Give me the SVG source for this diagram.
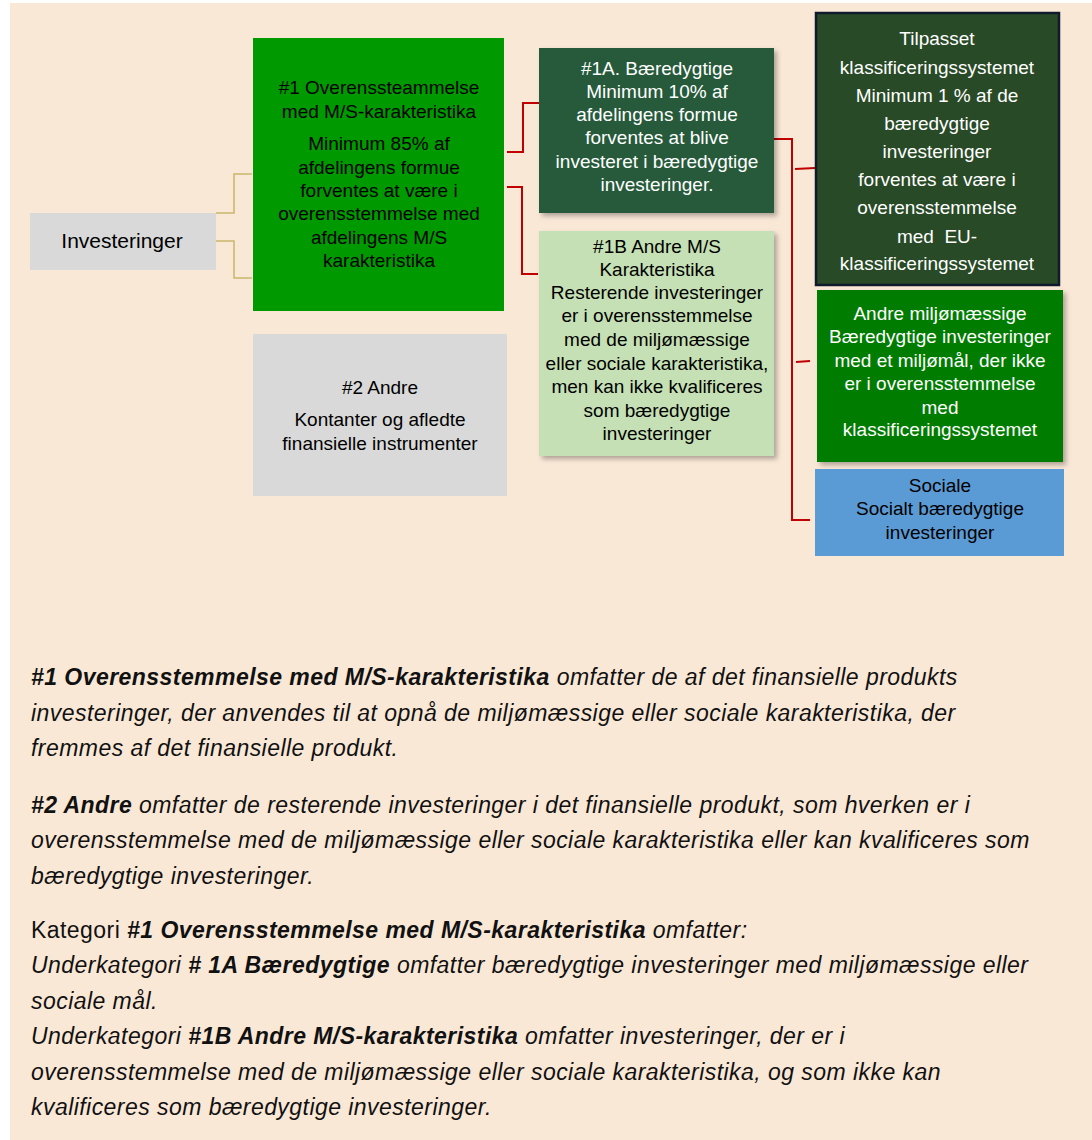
<svg xmlns="http://www.w3.org/2000/svg" width="1092" height="1140" viewBox="0 0 1092 1140">
<style>
.t{font-family:"Liberation Sans",Arial,sans-serif;font-size:19px;text-anchor:middle;fill:#000}
.w{fill:#fff}
.p{font-family:"Liberation Sans",Arial,sans-serif;font-size:23px;font-style:italic;fill:#111;letter-spacing:0.45px}
.b{font-weight:bold}
.n{font-style:normal}
.tan{fill:none;stroke:#C9B56B;stroke-width:1.5}
.red{fill:none;stroke:#C00000;stroke-width:2}
</style>
<defs>
<filter id="sh" x="-10%" y="-10%" width="125%" height="125%">
<feDropShadow dx="3" dy="3" stdDeviation="2.5" flood-color="#000" flood-opacity="0.3"/>
</filter>
</defs>
<rect x="0" y="0" width="1092" height="1140" fill="#fff"/>
<rect x="10" y="3" width="1082" height="1137" fill="#FAE8D7"/>
<g id="connectors">
<polyline class="tan" points="216,213 234,213 234,174 252,174"/>
<polyline class="tan" points="216,241 234,241 234,278 252,278"/>
<polyline class="red" points="507,152 523,152 523,103 539,103"/>
<polyline class="red" points="507,187 522,187 522,274 538,274"/>
<polyline class="red" points="774,139 792,139 792,520 810,520"/>
<line class="red" x1="795" y1="169" x2="815" y2="168"/>
<line class="red" x1="796" y1="362" x2="810" y2="361"/>
</g>
<g id="investeringer">
<rect x="30" y="213" width="186" height="57" fill="#D9D9D9"/>
<text class="t" x="122" y="248" style="font-size:21px">Investeringer</text>
</g>
<g id="n1">
<rect x="253" y="38" width="251" height="273" fill="#009900"/>
<text class="t" x="379" y="94">#1 Overenssteammelse</text>
<text class="t" x="379" y="118">med M/S-karakteristika</text>
<text class="t" x="379" y="150">Minimum 85% af</text>
<text class="t" x="379" y="174">afdelingens formue</text>
<text class="t" x="379" y="197">forventes at være i</text>
<text class="t" x="379" y="220">overensstemmelse med</text>
<text class="t" x="379" y="244">afdelingens M/S</text>
<text class="t" x="379" y="267">karakteristika</text>
</g>
<g id="n2">
<rect x="253" y="334" width="254" height="162" fill="#D9D9D9"/>
<text class="t" x="380" y="394">#2 Andre</text>
<text class="t" x="380" y="426">Kontanter og afledte</text>
<text class="t" x="380" y="450">finansielle instrumenter</text>
</g>
<g id="n1a">
<rect x="539" y="48" width="235" height="165" fill="#265A3A" filter="url(#sh)"/>
<text class="t w" x="657" y="75">#1A. Bæredygtige</text>
<text class="t w" x="657" y="98">Minimum 10% af</text>
<text class="t w" x="657" y="121">afdelingens formue</text>
<text class="t w" x="657" y="144">forventes at blive</text>
<text class="t w" x="657" y="168">investeret i bæredygtige</text>
<text class="t w" x="657" y="191">investeringer.</text>
</g>
<g id="n1b">
<rect x="539" y="231" width="235" height="225" fill="#C5E0B4" filter="url(#sh)"/>
<text class="t" x="657" y="253">#1B Andre M/S</text>
<text class="t" x="657" y="276">Karakteristika</text>
<text class="t" x="657" y="299">Resterende investeringer</text>
<text class="t" x="657" y="322">er i overensstemmelse</text>
<text class="t" x="657" y="346">med de miljømæssige</text>
<text class="t" x="657" y="370">eller sociale karakteristika,</text>
<text class="t" x="657" y="393">men kan ikke kvalificeres</text>
<text class="t" x="657" y="417">som bæredygtige</text>
<text class="t" x="657" y="440">investeringer</text>
</g>
<g id="taxonomy">
<rect x="816" y="13" width="243" height="272" fill="#294A27" stroke="#0F1B2D" stroke-width="2.5"/>
<text class="t w" x="937" y="45">Tilpasset</text>
<text class="t w" x="937" y="74">klassificeringssystemet</text>
<text class="t w" x="937" y="102">Minimum 1 % af de</text>
<text class="t w" x="937" y="130">bæredygtige</text>
<text class="t w" x="937" y="158">investeringer</text>
<text class="t w" x="937" y="186">forventes at være i</text>
<text class="t w" x="937" y="214">overensstemmelse</text>
<text class="t w" x="937" y="243" xml:space="preserve">med  EU-</text>
<text class="t w" x="937" y="270">klassificeringssystemet</text>
</g>
<g id="other-env">
<rect x="817" y="290" width="246" height="172" fill="#047C04" filter="url(#sh)"/>
<text class="t w" x="940" y="320">Andre miljømæssige</text>
<text class="t w" x="940" y="343">Bæredygtige investeringer</text>
<text class="t w" x="940" y="367">med et miljømål, der ikke</text>
<text class="t w" x="940" y="390">er i overensstemmelse</text>
<text class="t w" x="940" y="414">med</text>
<text class="t w" x="940" y="436">klassificeringssystemet</text>
</g>
<g id="social">
<rect x="815" y="469" width="249" height="87" fill="#5B9BD5"/>
<text class="t" x="940" y="492">Sociale</text>
<text class="t" x="940" y="515">Socialt bæredygtige</text>
<text class="t" x="940" y="539">investeringer</text>
</g>
<g id="notes">
<text class="p" x="31" y="685"><tspan class="b">#1 Overensstemmelse med M/S-karakteristika</tspan> omfatter de af det finansielle produkts</text>
<text class="p" x="31" y="721">investeringer, der anvendes til at opnå de miljømæssige eller sociale karakteristika, der</text>
<text class="p" x="31" y="756">fremmes af det finansielle produkt.</text>
<text class="p" x="31" y="813"><tspan class="b">#2 Andre</tspan> omfatter de resterende investeringer i det finansielle produkt, som hverken er i</text>
<text class="p" x="31" y="848">overensstemmelse med de miljømæssige eller sociale karakteristika eller kan kvalificeres som</text>
<text class="p" x="31" y="884">bæredygtige investeringer.</text>
<text class="p" x="31" y="938"><tspan class="n">Kategori </tspan><tspan class="b">#1 Overensstemmelse med M/S-karakteristika</tspan> omfatter:</text>
<text class="p" x="31" y="973">Underkategori <tspan class="b"># 1A Bæredygtige</tspan> omfatter bæredygtige investeringer med miljømæssige eller</text>
<text class="p" x="31" y="1009">sociale mål.</text>
<text class="p" x="31" y="1044">Underkategori <tspan class="b">#1B Andre M/S-karakteristika</tspan> omfatter investeringer, der er i</text>
<text class="p" x="31" y="1080">overensstemmelse med de miljømæssige eller sociale karakteristika, og som ikke kan</text>
<text class="p" x="31" y="1115">kvalificeres som bæredygtige investeringer.</text>
</g>
</svg>
